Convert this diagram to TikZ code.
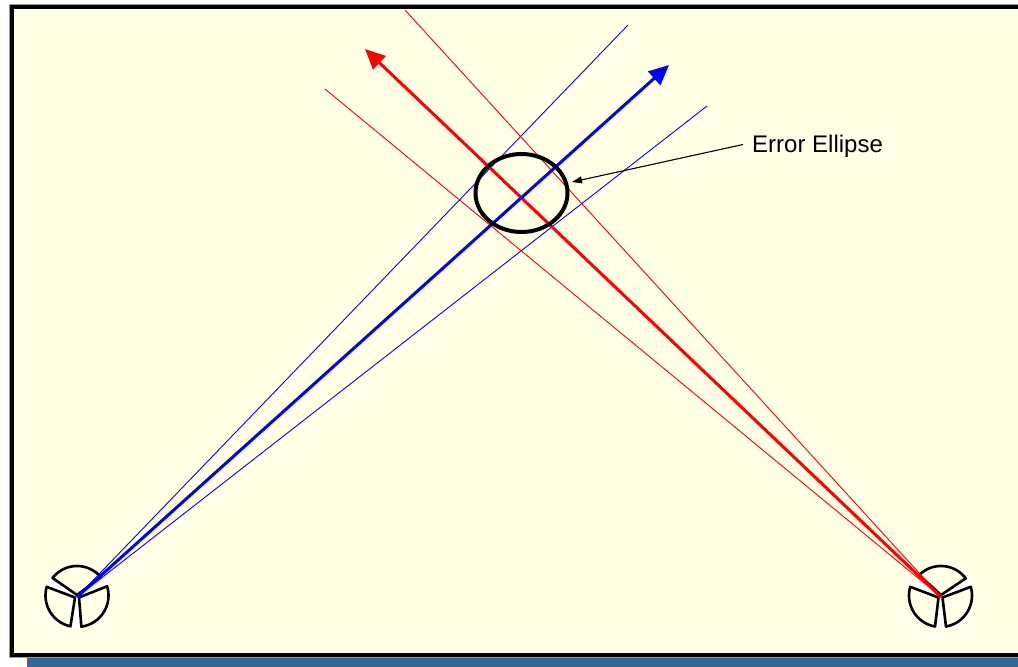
\documentclass[tikz,border=0pt]{standalone}
\usepackage{fontspec}
\setmainfont{Liberation Sans}
\usetikzlibrary{arrows.meta}
\definecolor{paper}{HTML}{FFFFE6}
\definecolor{band}{HTML}{336699}
\definecolor{edge}{HTML}{999999}
\tikzset{
  thinray/.style={line width=0.9pt},
  mainray/.style={line width=3pt,-{Triangle[length=20pt,width=18pt]}},
  blade/.style={draw=black,fill=paper,line width=2.6pt,line join=round},
  disk/.style={fill=white,draw=none},
  lbl/.style={inner sep=0pt,anchor=west,font=\fontsize{24}{26}\selectfont},
}
% #1 centre, #2 start angle, #3 end angle, #4 radius, #5 apex offset
\newcommand{\bladeshape}[5]{%
  \draw[blade,shift={(#1)}] plot[domain=#2:#3,samples=24,smooth] ({#4*cos(\x)},{-#4*sin(\x)}) -- #5 -- cycle;
}
\begin{document}
\begin{tikzpicture}[x=1pt,y=-1pt]
\useasboundingbox (0,0) rectangle (1018,667);
\fill[white] (0,0) rectangle (1018,667);
\fill[band] (27,655) rectangle (1018,667);
\fill[edge] (9,4) rectangle (1018,658);
\fill[black] (10,5) rectangle (1018,657);
\fill[paper] (14,9) rectangle (1018,653);
\coordinate (L) at (77,597);
\coordinate (R) at (941,597);
\coordinate (Lb) at (77,595.5);
\coordinate (Rb) at (940.5,595.5);
\coordinate (Ltip) at (669,65);
\coordinate (Lhi) at (628,25);
\coordinate (Llo) at (707,106);
\coordinate (Rtip) at (365,49);
\coordinate (Rhi) at (405,10);
\coordinate (Rlo) at (325,89);
% left sensor
\fill[disk] (L) circle (33);
\bladeshape{L}{142}{40}{31}{(0,-2)}
\bladeshape{Lb}{164}{258}{31.5}{(-2,2)}
\bladeshape{Lb}{278}{377}{31.5}{(2,2)}
% right sensor
\fill[disk] (R) circle (33);
\bladeshape{R}{135}{37}{31}{(0,-2)}
\bladeshape{Rb}{164}{260}{31.5}{(-2,2)}
\bladeshape{Rb}{280}{376}{31.5}{(2,2)}
% rays
\draw[thinray,blue] (L) -- (Lhi);
\draw[thinray,blue] (L) -- (Llo);
\draw[thinray,red] (R) -- (Rhi);
\draw[thinray,red] (R) -- (Rlo);
\draw[mainray,red] (R) -- (Rtip);
\draw[mainray,blue] (L) -- (Ltip);
% error ellipse and its label
\draw[black,line width=4pt] (521.5,193) ellipse [x radius=46,y radius=39];
\coordinate (Eedge) at (572,182);
\coordinate (Estart) at (743,144.5);
\node[lbl] (T) at (752,146.5) {Error Ellipse};
\draw[black,line width=1.1pt,-{Triangle[length=10pt,width=7pt]}] (Estart) -- (Eedge);
\end{tikzpicture}
\end{document}
